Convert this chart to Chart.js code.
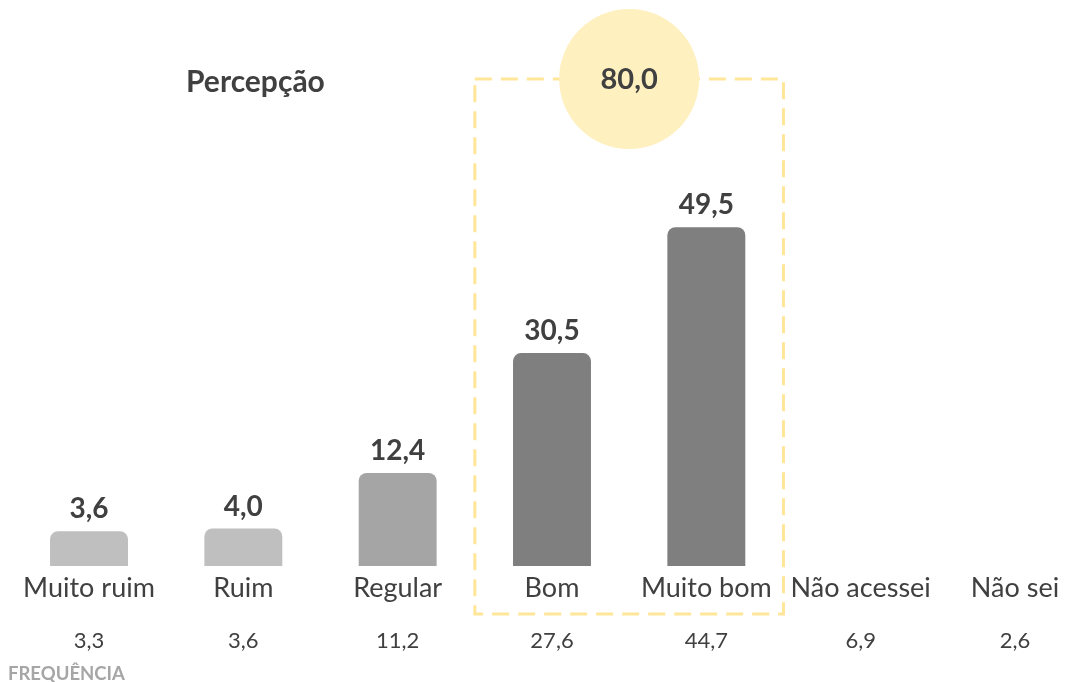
<!DOCTYPE html>
<html>
<head>
<meta charset="utf-8">
<script src="https://cdn.jsdelivr.net/npm/chart.js@4.4.1/dist/chart.umd.min.js"></script>
<style>
  html, body { margin: 0; padding: 0; background: #ffffff; }
  #wrap { width: 1066px; height: 682px; position: relative; }
</style>
</head>
<body>
<div id="wrap"><canvas id="c" width="1066" height="682"></canvas></div>
<script>
const categories = ['Muito ruim', 'Ruim', 'Regular', 'Bom', 'Muito bom', 'Não acessei', 'Não sei'];
const perceptionValues = [3.6, 4.0, 12.4, 30.5, 49.5, null, null];
const frequencyValues = [3.3, 3.6, 11.2, 27.6, 44.7, 6.9, 2.6];
const barColors = ['#bfbfbf', '#bfbfbf', '#a5a5a5', '#7f7f7f', '#7f7f7f', '#7f7f7f', '#7f7f7f'];
const highlightedCategories = ['Bom', 'Muito bom'];
const chartTitle = 'Percepção';
const frequencyTitle = 'FREQUÊNCIA';

const FONT = 'Lato, "Open Sans", sans-serif';
const TEXT = '#404040';
const fmt = v => v.toFixed(1).replace('.', ',');

const highlightTotal = highlightedCategories
  .map(c => perceptionValues[categories.indexOf(c)])
  .reduce((a, b) => a + b, 0);

const Y_MIN = -1.66;

const decorPlugin = {
  id: 'decor',
  beforeDatasetsDraw(chart) {
    const ctx = chart.ctx;
    const x = chart.scales.x;
    const i0 = categories.indexOf(highlightedCategories[0]);
    const i1 = categories.indexOf(highlightedCategories[highlightedCategories.length - 1]);
    const half = (x.getPixelForValue(1) - x.getPixelForValue(0)) / 2;
    const left = x.getPixelForValue(i0) - half;
    const right = x.getPixelForValue(i1) + half;
    const top = 79, bottom = 614;
    ctx.save();
    ctx.strokeStyle = '#ffe699';
    ctx.lineWidth = 3;
    ctx.setLineDash([17, 9]);
    ctx.strokeRect(left, top, right - left, bottom - top);
    ctx.setLineDash([]);
    const cx = (x.getPixelForValue(i0) + x.getPixelForValue(i1)) / 2;
    ctx.beginPath();
    ctx.arc(cx, top, 70, 0, Math.PI * 2);
    ctx.fillStyle = '#fff0c0';
    ctx.fill();
    ctx.fillStyle = TEXT;
    ctx.font = 'bold 29px ' + FONT;
    ctx.textAlign = 'center';
    ctx.textBaseline = 'middle';
    ctx.fillText(fmt(highlightTotal), cx, top + 1);
    ctx.textAlign = 'left';
    ctx.textBaseline = 'alphabetic';
    ctx.font = 'bold 30px ' + FONT;
    ctx.fillText(chartTitle, 186, 92);
    ctx.restore();
  },
  afterDatasetsDraw(chart) {
    const ctx = chart.ctx;
    const meta = chart.getDatasetMeta(0);
    const x = chart.scales.x;
    ctx.save();
    ctx.fillStyle = TEXT;
    ctx.textAlign = 'center';
    ctx.textBaseline = 'alphabetic';
    ctx.font = 'bold 28px ' + FONT;
    meta.data.forEach((bar, i) => {
      const v = perceptionValues[i];
      if (v === null || v === undefined) return;
      ctx.fillText(fmt(v), bar.x, bar.y - 13);
    });
    ctx.font = '22px ' + FONT;
    frequencyValues.forEach((v, i) => {
      ctx.fillText(fmt(v), x.getPixelForValue(i), 648);
    });
    ctx.textAlign = 'left';
    ctx.fillStyle = '#a6a6a6';
    ctx.font = 'bold 18.5px ' + FONT;
    ctx.fillText(frequencyTitle, 8, 680);
    ctx.restore();
  }
};

new Chart(document.getElementById('c'), {
  type: 'bar',
  data: {
    labels: categories,
    datasets: [{
      data: perceptionValues,
      backgroundColor: barColors,
      borderRadius: { topLeft: 8, topRight: 8, bottomLeft: 0, bottomRight: 0 },
      borderSkipped: false,
      base: Y_MIN,
      categoryPercentage: 1,
      barPercentage: 0.505,
      clip: false
    }]
  },
  options: {
    responsive: false,
    animation: false,
    devicePixelRatio: 1,
    layout: { padding: { top: 12, bottom: 66, left: 89, right: 51 } },
    plugins: { legend: { display: false }, tooltip: { enabled: false } },
    scales: {
      x: {
        offset: false,
        grid: { display: false },
        border: { display: false },
        afterFit(scale) { scale.height = 50; },
        ticks: {
          color: TEXT,
          font: { family: FONT, size: 27, lineHeight: 1.2 },
          padding: -2,
          maxRotation: 0,
          autoSkip: false
        }
      },
      y: {
        display: false,
        min: Y_MIN,
        max: 82.0
      }
    }
  },
  plugins: [decorPlugin]
});
</script>
</body>
</html>
